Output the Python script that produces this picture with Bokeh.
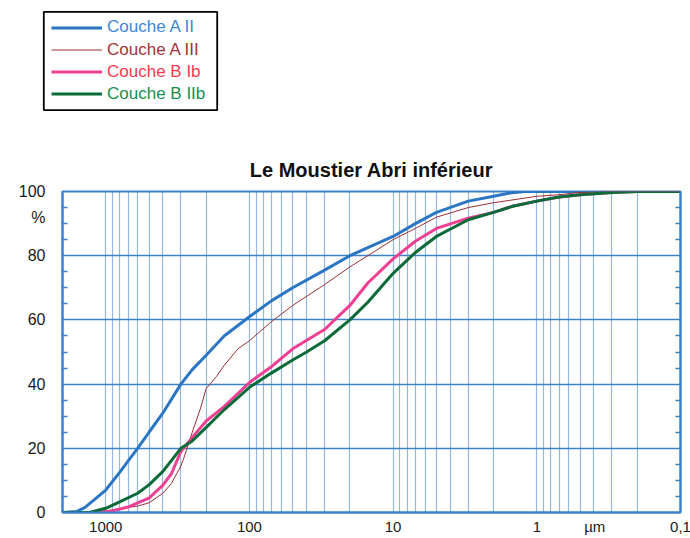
from bokeh.plotting import figure
from bokeh.models import (Range1d, FixedTicker, LinearAxis, Legend, LegendItem,
                          BoxAnnotation)
from bokeh.embed import file_html
from bokeh.resources import INLINE

# ---------------- data (grain size in micrometres, cumulative %) ----------------
size_a2 = [2000, 1600, 1400, 1200, 1000, 800, 700, 600, 500, 400, 300, 250, 200,
           150, 100, 70, 50, 30, 20, 15, 10, 7, 5, 3, 2, 1.5, 1.2, 0.1]
pct_a2 = [0, 0.3, 1.5, 4, 7, 12.5, 16, 20, 25, 31, 40, 44.5, 49,
          55, 61, 66, 70, 75.5, 80, 82.5, 86, 90, 93.5, 97, 98.5, 99.6, 100, 100]

size_a3 = [2000, 1200, 1000, 800, 600, 500, 400, 350, 300, 286, 270, 250, 220,
           200, 170, 150, 120, 100, 70, 50, 30, 20, 15, 10, 7, 5, 3, 2, 1,
           0.7, 0.5, 0.3, 0.1]
pct_a3 = [0, 0, 0.5, 1.2, 2, 3, 6, 9, 14.5, 17, 20.4, 25, 32.2,
          38.6, 42.3, 45.8, 51, 53.5, 59.5, 64.5, 71, 76.5, 80, 85, 88.5, 92, 95, 96.5, 98.5,
          99, 99.7, 100, 100]

size_b1 = [2000, 1100, 900, 700, 600, 500, 400, 350, 300, 250, 200, 150, 100,
           70, 50, 30, 20, 15, 10, 7, 5, 3, 2, 1.5, 1, 0.7, 0.5, 0.3, 0.2, 0.1]
pct_b1 = [0, 0, 0.5, 1.7, 3, 4.5, 8.5, 12, 19, 23.4, 28.5, 33, 40.5,
          45.5, 51, 57, 64.5, 71.5, 79, 84.5, 88.5, 91.7, 93.5, 95.3, 97, 98.3, 99, 99.7, 100, 100]

size_b2 = [2000, 1300, 1000, 800, 600, 500, 400, 300, 250, 200, 150, 100,
           70, 50, 40, 30, 20, 15, 10, 7, 5, 3, 2, 1.5, 1, 0.7, 0.5, 0.3, 0.2, 0.1]
pct_b2 = [0, 0, 1.3, 3.3, 6, 8.6, 12.8, 20, 22.3, 26.5, 32, 39,
          43.5, 47.5, 50, 53.5, 60, 65.5, 74.5, 81, 86, 91.2, 93.5, 95.3, 97, 98.3, 99, 99.7, 100, 100]

series_names = ["Couche A II", "Couche A III", "Couche B Ib", "Couche B IIb"]
x_tick_values = [1000, 100, 10, 1, 0.1]
x_tick_labels = ["1000", "100", "10", "1", "0,1"]
x_unit_label = "µm"
x_unit_pos = 0.395          # where the unit text sits along the size axis
y_tick_values = [0, 20, 40, 60, 80, 100]
y_unit_label = "%"
y_unit_pos = 92             # where the % sign sits along the left axis

# ---------------- styles ----------------
BLUE_FRAME = "#3b82c8"
GRID_DOT = "#2a72c2"
line_colors = ["#2b76c4", "#9c2f33", "#ee3f92", "#0b6b38"]
line_widths = [3, 1, 3, 3]
text_colors = ["#3a88d6", "#a3333a", "#f8384e", "#15904e"]
FONT = "Liberation Sans"
TXT = "#1a1a1a"

TOP_H = 120
W = 690

# ---------------- main chart ----------------
p = figure(width=W, height=538 - TOP_H, x_axis_type="log",
           x_range=Range1d(2000, 0.1), y_range=Range1d(0, 100),
           output_backend="svg", toolbar_location=None,
           min_border_left=62, min_border_right=10, min_border_top=71,
           min_border_bottom=26)

p.title.text = "Le Moustier Abri inférieur"
p.title.align = "center"
p.title.text_font = FONT
p.title.text_font_style = "bold"
p.title.text_font_size = "20px"
p.title.text_color = "#111111"
p.title.standoff = 21

p.outline_line_color = BLUE_FRAME
p.outline_line_width = 2
p.background_fill_color = "white"
p.border_fill_color = "white"

# grids
minor_grid = []
for k in [-1, 0, 1, 2]:
    for n in range(1, 10):
        minor_grid.append(round(n * 10 ** k, 6))
minor_grid.append(1000)
p.xgrid.ticker = FixedTicker(ticks=minor_grid)
p.xgrid.grid_line_color = GRID_DOT
p.xgrid.grid_line_width = 1.2
p.xgrid.grid_line_dash = "1 1"
p.ygrid.ticker = FixedTicker(ticks=[20, 40, 60, 80])
p.ygrid.grid_line_color = BLUE_FRAME
p.ygrid.grid_line_width = 1.5

# x axis
xa = p.xaxis[0]
xa.ticker = FixedTicker(ticks=x_tick_values + [x_unit_pos])
overrides = {v: t for v, t in zip(x_tick_values, x_tick_labels)}
overrides[x_unit_pos] = x_unit_label
xa.major_label_overrides = overrides
xa.major_tick_in = 0
xa.major_tick_out = 0
xa.minor_tick_in = 0
xa.minor_tick_out = 0
xa.axis_line_color = BLUE_FRAME
xa.axis_line_width = 2
xa.major_label_text_font = FONT
xa.major_label_text_font_size = "15px"
xa.major_label_text_color = TXT
xa.major_label_standoff = 5

minor_y = [v for v in range(5, 100, 5) if v % 20 != 0]

# y axis (left)
ya = p.yaxis[0]
ya.ticker = FixedTicker(ticks=y_tick_values + [y_unit_pos], minor_ticks=minor_y)
yover = {v: str(v) for v in y_tick_values}
yover[y_unit_pos] = y_unit_label
ya.major_label_overrides = yover
ya.major_tick_in = 0
ya.major_tick_out = 0
ya.minor_tick_in = 5
ya.minor_tick_out = 0
ya.minor_tick_line_color = BLUE_FRAME
ya.minor_tick_line_width = 1.5
ya.axis_line_color = BLUE_FRAME
ya.axis_line_width = 2
ya.major_label_text_font = FONT
ya.major_label_text_font_size = "16px"
ya.major_label_text_color = TXT
ya.major_label_standoff = 17

# right axis (minor ticks only)
ra = LinearAxis(ticker=FixedTicker(ticks=[], minor_ticks=minor_y),
                major_label_standoff=0,
                major_tick_in=0, major_tick_out=0, minor_tick_in=5, minor_tick_out=0,
                minor_tick_line_color=BLUE_FRAME, minor_tick_line_width=1.5,
                axis_line_color=BLUE_FRAME, axis_line_width=2)
p.add_layout(ra, "right")

# curves
for xs, ys, c, w in zip([size_a2, size_a3, size_b1, size_b2],
                        [pct_a2, pct_a3, pct_b1, pct_b2],
                        line_colors, line_widths):
    p.line(xs, ys, line_color=c, line_width=w)

# ---------------- legend strip above the chart (separate root) ----------------
lg = figure(width=W, height=TOP_H, x_range=Range1d(0, 1), y_range=Range1d(0, 1),
            output_backend="svg", toolbar_location=None,
            x_axis_location=None, y_axis_location=None,
            min_border=0, min_border_left=0, min_border_right=0,
            min_border_top=0, min_border_bottom=0)
lg.outline_line_color = None
lg.grid.visible = False
lg.background_fill_color = "white"
lg.border_fill_color = "white"

lg.add_layout(BoxAnnotation(left=43.3, right=216.7, bottom=10.3, top=108.7,
                            left_units="screen", right_units="screen",
                            top_units="screen", bottom_units="screen",
                            fill_color="white", fill_alpha=1,
                            line_color="#000000", line_alpha=1, line_width=1.8))

nan = float("nan")
row_bottoms = [82.7, 60.5, 38.3, 16.1]
for name, c, w, tc, yb in zip(series_names, line_colors, line_widths, text_colors, row_bottoms):
    proxy = lg.line(x=[nan], y=[nan], line_color=c, line_width=w)
    leg = Legend(items=[LegendItem(label=name, renderers=[proxy])],
                 location=(51, yb), padding=0, margin=0, spacing=0,
                 border_line_alpha=0, background_fill_alpha=0,
                 glyph_width=51, glyph_height=19, label_height=19, label_standoff=5,
                 label_text_font=FONT, label_text_font_size="17px",
                 label_text_color=tc)
    lg.add_layout(leg)

open("out.html", "w").write(file_html([lg, p], INLINE))
